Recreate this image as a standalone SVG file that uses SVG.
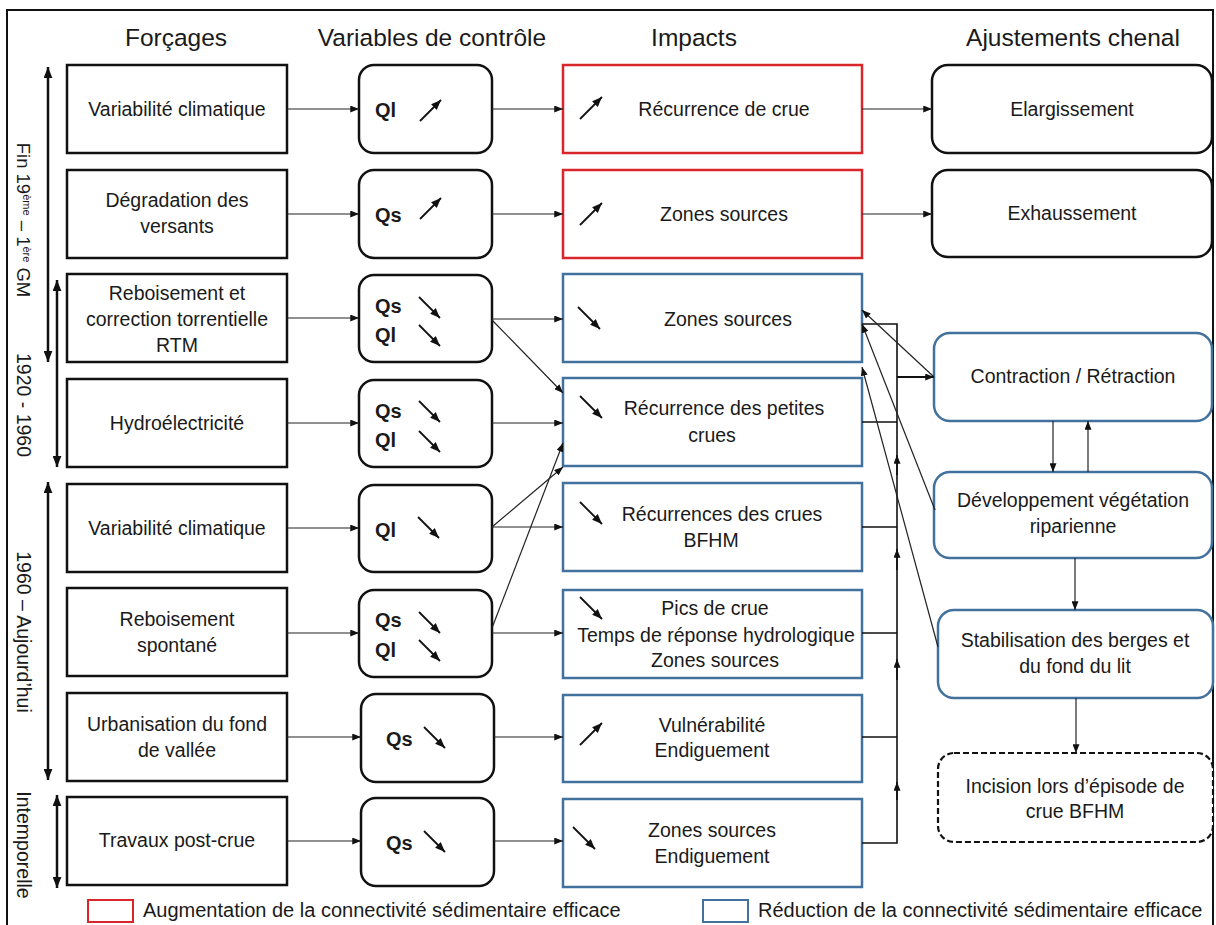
<svg xmlns="http://www.w3.org/2000/svg" width="1216" height="925" viewBox="0 0 1216 925">
<defs>
<style>
text{font-family:"Liberation Sans",Arial,sans-serif;fill:#1a1a1a;}
.h{font-size:24.5px;text-anchor:middle;}
.t{font-size:19.5px;text-anchor:middle;}
.q{font-size:20px;font-weight:bold;}
.v{font-size:19.5px;text-anchor:middle;}
.lg{font-size:20px;}
.bx{fill:#fff;stroke:#111;stroke-width:2.5;}
.red{fill:#fff;stroke:#d9262b;stroke-width:2.5;}
.blue{fill:#fff;stroke:#41719c;stroke-width:2.5;}
.c{fill:none;stroke:#222;stroke-width:1.2;}
.cb{fill:none;stroke:#111;stroke-width:1.6;}
.ic{fill:none;stroke:#111;stroke-width:1.8;}
.tl{fill:none;stroke:#111;stroke-width:2.5;}
</style>
<marker id="ah" viewBox="0 0 10 8" refX="10" refY="4" markerWidth="9" markerHeight="7" markerUnits="userSpaceOnUse" orient="auto"><path d="M0,0 L10,4 L0,8 z" fill="#111"/></marker>
<marker id="ai" viewBox="0 0 10 8" refX="10" refY="4" markerWidth="10" markerHeight="8" markerUnits="userSpaceOnUse" orient="auto"><path d="M0,0 L10,4 L0,8 z" fill="#111"/></marker>
<marker id="at" viewBox="0 0 10 8" refX="10" refY="4" markerWidth="11" markerHeight="9" markerUnits="userSpaceOnUse" orient="auto-start-reverse"><path d="M0,0 L10,4 L0,8 z" fill="#111"/></marker>
</defs>
<rect x="0" y="0" width="1216" height="925" fill="#fff"/>
<rect x="7" y="10" width="1206" height="930" fill="none" stroke="#111" stroke-width="2"/>

<g id="headers">
<text class="h" x="176" y="46">Forçages</text>
<text class="h" x="432" y="46">Variables de contrôle</text>
<text class="h" x="694" y="46">Impacts</text>
<text class="h" x="1073" y="46">Ajustements chenal</text>
</g>

<g id="timeline">
<line class="tl" x1="48" y1="67" x2="48" y2="362" marker-start="url(#at)" marker-end="url(#at)"/>
<line class="tl" x1="57" y1="280" x2="57" y2="467" marker-start="url(#at)" marker-end="url(#at)"/>
<line class="tl" x1="48" y1="482" x2="48" y2="780" marker-start="url(#at)" marker-end="url(#at)"/>
<line class="tl" x1="57" y1="795" x2="57" y2="888" marker-start="url(#at)" marker-end="url(#at)"/>
<text class="v" style="font-size:18.5px" transform="translate(17,220) rotate(90)">Fin 19<tspan font-size="11" baseline-shift="super">ème</tspan> – 1<tspan font-size="11" baseline-shift="super">ère</tspan> GM</text>
<text class="v" transform="translate(17,405) rotate(90)">1920 - 1960</text>
<text class="v" transform="translate(17,632) rotate(90)">1960 – Aujourd’hui</text>
<text class="v" transform="translate(17,845) rotate(90)">Intemporelle</text>
</g>

<g id="forcages">
<g id="f1"><rect class="bx" x="67" y="65" width="220" height="88"/><text class="t" x="177" y="116">Variabilité climatique</text></g>
<g id="f2"><rect class="bx" x="67" y="170" width="220" height="88"/><text class="t" x="177" y="207">Dégradation des</text><text class="t" x="177" y="233">versants</text></g>
<g id="f3"><rect class="bx" x="67" y="274" width="220" height="88"/><text class="t" x="177" y="300">Reboisement et</text><text class="t" x="177" y="326">correction torrentielle</text><text class="t" x="177" y="352">RTM</text></g>
<g id="f4"><rect class="bx" x="67" y="379" width="220" height="88"/><text class="t" x="177" y="430">Hydroélectricité</text></g>
<g id="f5"><rect class="bx" x="67" y="484" width="220" height="88"/><text class="t" x="177" y="535">Variabilité climatique</text></g>
<g id="f6"><rect class="bx" x="67" y="588" width="220" height="88"/><text class="t" x="177" y="626">Reboisement</text><text class="t" x="177" y="652">spontané</text></g>
<g id="f7"><rect class="bx" x="67" y="693" width="220" height="88"/><text class="t" x="177" y="731">Urbanisation du fond</text><text class="t" x="177" y="757">de vallée</text></g>
<g id="f8"><rect class="bx" x="67" y="797" width="220" height="88"/><text class="t" x="177" y="847">Travaux post-crue</text></g>
</g>

<g id="variables">
<g id="v1"><rect class="bx" x="359" y="65" width="133" height="88" rx="15"/><text class="q" x="375" y="117">Ql</text><line class="ic" x1="420" y1="121" x2="441" y2="100" marker-end="url(#ai)"/></g>
<g id="v2"><rect class="bx" x="359" y="170" width="133" height="88" rx="15"/><text class="q" x="375" y="222">Qs</text><line class="ic" x1="420" y1="219" x2="441" y2="198" marker-end="url(#ai)"/></g>
<g id="v3"><rect class="bx" x="359" y="275" width="133" height="87" rx="15"/><text class="q" x="375" y="313">Qs</text><text class="q" x="375" y="342">Ql</text><line class="ic" x1="419" y1="297" x2="440" y2="318" marker-end="url(#ai)"/><line class="ic" x1="419" y1="325" x2="440" y2="346" marker-end="url(#ai)"/></g>
<g id="v4"><rect class="bx" x="359" y="380" width="133" height="87" rx="15"/><text class="q" x="375" y="418">Qs</text><text class="q" x="375" y="447">Ql</text><line class="ic" x1="419" y1="401" x2="440" y2="422" marker-end="url(#ai)"/><line class="ic" x1="419" y1="431" x2="440" y2="452" marker-end="url(#ai)"/></g>
<g id="v5"><rect class="bx" x="359" y="485" width="133" height="87" rx="15"/><text class="q" x="375" y="537">Ql</text><line class="ic" x1="418" y1="517" x2="439" y2="538" marker-end="url(#ai)"/></g>
<g id="v6"><rect class="bx" x="359" y="590" width="133" height="87" rx="15"/><text class="q" x="375" y="627">Qs</text><text class="q" x="375" y="657">Ql</text><line class="ic" x1="419" y1="612" x2="440" y2="633" marker-end="url(#ai)"/><line class="ic" x1="419" y1="640" x2="440" y2="661" marker-end="url(#ai)"/></g>
<g id="v7"><rect class="bx" x="361" y="694" width="133" height="88" rx="15"/><text class="q" x="386" y="746">Qs</text><line class="ic" x1="424" y1="727" x2="445" y2="748" marker-end="url(#ai)"/></g>
<g id="v8"><rect class="bx" x="361" y="798" width="133" height="88" rx="15"/><text class="q" x="386" y="850">Qs</text><line class="ic" x1="424" y1="831" x2="445" y2="852" marker-end="url(#ai)"/></g>
</g>

<g id="impacts">
<g id="i1"><rect class="red" x="563" y="65" width="299" height="88"/><line class="ic" x1="580" y1="119" x2="602" y2="97" marker-end="url(#ai)"/><text class="t" x="724" y="116">Récurrence de crue</text></g>
<g id="i2"><rect class="red" x="563" y="170" width="299" height="88"/><line class="ic" x1="580" y1="225" x2="602" y2="203" marker-end="url(#ai)"/><text class="t" x="724" y="221">Zones sources</text></g>
<g id="i3"><rect class="blue" x="563" y="274" width="299" height="88"/><line class="ic" x1="578" y1="307" x2="600" y2="329" marker-end="url(#ai)"/><text class="t" x="728" y="326">Zones sources</text></g>
<g id="i4"><rect class="blue" x="563" y="378" width="299" height="88"/><line class="ic" x1="580" y1="396" x2="602" y2="418" marker-end="url(#ai)"/><text class="t" x="724" y="415">Récurrence des petites</text><text class="t" x="712" y="442">crues</text></g>
<g id="i5"><rect class="blue" x="563" y="483" width="299" height="88"/><line class="ic" x1="580" y1="502" x2="602" y2="524" marker-end="url(#ai)"/><text class="t" x="722" y="521">Récurrences des crues</text><text class="t" x="711" y="547">BFHM</text></g>
<g id="i6"><rect class="blue" x="563" y="590" width="299" height="88"/><line class="ic" x1="580" y1="597" x2="602" y2="619" marker-end="url(#ai)"/><text class="t" x="715" y="615">Pics de crue</text><text class="t" x="716" y="642">Temps de réponse hydrologique</text><text class="t" x="715" y="667">Zones sources</text></g>
<g id="i7"><rect class="blue" x="563" y="695" width="299" height="87"/><line class="ic" x1="580" y1="745" x2="602" y2="723" marker-end="url(#ai)"/><text class="t" x="712" y="732">Vulnérabilité</text><text class="t" x="712" y="757">Endiguement</text></g>
<g id="i8"><rect class="blue" x="563" y="799" width="299" height="88"/><line class="ic" x1="573" y1="827" x2="595" y2="849" marker-end="url(#ai)"/><text class="t" x="712" y="837">Zones sources</text><text class="t" x="712" y="863">Endiguement</text></g>
</g>

<g id="ajustements">
<g id="a1"><rect class="bx" x="932" y="65" width="280" height="88" rx="16"/><text class="t" x="1072" y="116">Elargissement</text></g>
<g id="a2"><rect class="bx" x="932" y="170" width="280" height="87" rx="16"/><text class="t" x="1072" y="220">Exhaussement</text></g>
<g id="a3"><rect class="blue" x="934" y="333" width="278" height="88" rx="16"/><text class="t" x="1073" y="383">Contraction / Rétraction</text></g>
<g id="a4"><rect class="blue" x="934" y="472" width="278" height="86" rx="16"/><text class="t" x="1073" y="507">Développement végétation</text><text class="t" x="1073" y="533">riparienne</text></g>
<g id="a5"><rect class="blue" x="938" y="610" width="275" height="88" rx="16"/><text class="t" x="1075" y="647">Stabilisation des berges et</text><text class="t" x="1075" y="673">du fond du lit</text></g>
<g id="a6"><rect x="938" y="753" width="275" height="89" rx="16" fill="#fff" stroke="#111" stroke-width="2.2" stroke-dasharray="6,3"/><text class="t" x="1075" y="793">Incision lors d’épisode de</text><text class="t" x="1075" y="818">crue BFHM</text></g>
</g>

<g id="connectors">
<line class="c" x1="287" y1="109" x2="359" y2="109" marker-end="url(#ah)"/>
<line class="c" x1="287" y1="214" x2="359" y2="214" marker-end="url(#ah)"/>
<line class="c" x1="287" y1="318" x2="359" y2="318" marker-end="url(#ah)"/>
<line class="c" x1="287" y1="423" x2="359" y2="423" marker-end="url(#ah)"/>
<line class="c" x1="287" y1="528" x2="359" y2="528" marker-end="url(#ah)"/>
<line class="c" x1="287" y1="633" x2="359" y2="633" marker-end="url(#ah)"/>
<line class="c" x1="287" y1="737" x2="361" y2="737" marker-end="url(#ah)"/>
<line class="c" x1="287" y1="841" x2="361" y2="841" marker-end="url(#ah)"/>

<line class="c" x1="492" y1="109" x2="563" y2="109" marker-end="url(#ah)"/>
<line class="c" x1="492" y1="214" x2="563" y2="214" marker-end="url(#ah)"/>
<line class="c" x1="492" y1="319" x2="563" y2="319" marker-end="url(#ah)"/>
<line class="c" x1="492" y1="320" x2="563" y2="393" marker-end="url(#ah)"/>
<line class="c" x1="492" y1="423" x2="563" y2="423" marker-end="url(#ah)"/>
<line class="c" x1="492" y1="527" x2="563" y2="527" marker-end="url(#ah)"/>
<line class="c" x1="492" y1="527" x2="563" y2="467" marker-end="url(#ah)"/>
<line class="c" x1="492" y1="633" x2="563" y2="633" marker-end="url(#ah)"/>
<line class="c" x1="492" y1="628" x2="563" y2="443" marker-end="url(#ah)"/>
<line class="c" x1="494" y1="737" x2="563" y2="737" marker-end="url(#ah)"/>
<line class="c" x1="494" y1="841" x2="563" y2="841" marker-end="url(#ah)"/>

<line class="c" x1="862" y1="109" x2="932" y2="109" marker-end="url(#ah)"/>
<line class="c" x1="862" y1="214" x2="932" y2="214" marker-end="url(#ah)"/>

<path class="cb" d="M862,324 H897 V843 H862"/>
<line class="cb" x1="862" y1="422" x2="897" y2="422"/>
<line class="cb" x1="862" y1="527" x2="897" y2="527"/>
<line class="cb" x1="862" y1="633" x2="897" y2="633"/>
<line class="cb" x1="862" y1="737" x2="897" y2="737"/>
<line class="cb" x1="897" y1="800" x2="897" y2="782" marker-end="url(#ah)"/>
<line class="cb" x1="897" y1="680" x2="897" y2="659" marker-end="url(#ah)"/>
<line class="cb" x1="897" y1="570" x2="897" y2="549" marker-end="url(#ah)"/>
<line class="cb" x1="897" y1="475" x2="897" y2="455" marker-end="url(#ah)"/>
<line x1="897" y1="377" x2="934" y2="377" stroke="#111" stroke-width="2.2" marker-end="url(#ah)"/>

<line class="c" x1="934" y1="377" x2="862" y2="310" marker-end="url(#ah)"/>
<line class="c" x1="935" y1="510" x2="862" y2="324" marker-end="url(#ah)"/>
<line class="c" x1="938" y1="647" x2="862" y2="367" marker-end="url(#ah)"/>

<line class="c" x1="1053" y1="421" x2="1053" y2="472" marker-end="url(#ah)"/>
<line class="c" x1="1088" y1="472" x2="1088" y2="421" marker-end="url(#ah)"/>
<line class="c" x1="1075" y1="558" x2="1075" y2="610" marker-end="url(#ah)"/>
<line class="c" x1="1076" y1="698" x2="1076" y2="753" marker-end="url(#ah)"/>
</g>

<g id="legend">
<rect x="88" y="900" width="45" height="22" fill="#fff" stroke="#d9262b" stroke-width="2"/>
<text class="lg" x="143" y="917">Augmentation de la connectivité sédimentaire efficace</text>
<rect x="703" y="900" width="45" height="22" fill="#fff" stroke="#41719c" stroke-width="2"/>
<text class="lg" x="758" y="917">Réduction de la connectivité sédimentaire efficace</text>
</g>
</svg>
